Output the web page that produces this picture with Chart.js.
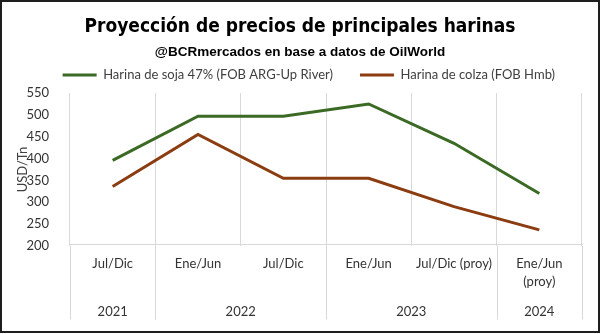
<!DOCTYPE html>
<html>
<head>
<meta charset="utf-8">
<script src="https://cdn.jsdelivr.net/npm/chart.js@4"></script>
<style>
  html, body { margin: 0; padding: 0; background: #fff; }
  #frame { position: absolute; left: 0; top: 0; width: 596px; height: 329px; border: 2px solid #1e1e1e; background: #fff; }
  canvas { display: block; }
</style>
</head>
<body>
<div id="frame"><canvas id="c" width="596" height="329"></canvas></div>
<script>
// ---- data ----
const periods = ["Jul/Dic", "Ene/Jun", "Jul/Dic", "Ene/Jun", "Jul/Dic (proy)", ["Ene/Jun", "(proy)"]];
const years = ["2021", "2022", "2023", "2024"];
const yearSpans = [1, 2, 2, 1];
const sojaLabel = "Harina de soja 47% (FOB ARG-Up River)";
const colzaLabel = "Harina de colza (FOB Hmb)";
const sojaValues = [396, 497, 497, 525, 435, 320];
const colzaValues = [336, 455, 355, 355, 290, 237];
const yTicks = [200, 250, 300, 350, 400, 450, 500, 550];

// year group centers / boundaries (in category index units)
const yearCenters = [];
const yearBounds = [-0.5];
let acc = 0;
yearSpans.forEach(s => { yearCenters.push(acc + (s - 1) / 2); acc += s; yearBounds.push(acc - 0.5); });

const gridGray = '#d9d9d9';
const tickColor = '#333333';
const baseFont = 'Lato, "Liberation Sans", sans-serif';

const yearLines = {
  id: 'yearLines',
  afterDraw(chart) {
    const xs = chart.scales.x, x2 = chart.scales.x2;
    const ctx = chart.ctx;
    ctx.save();
    ctx.strokeStyle = gridGray;
    ctx.lineWidth = 1;
    yearBounds.forEach(v => {
      const px = Math.round(xs.getPixelForValue(v)) + 0.5;
      ctx.beginPath();
      ctx.moveTo(px, chart.chartArea.bottom);
      ctx.lineTo(px, x2.bottom);
      ctx.stroke();
    });
    ctx.restore();
  }
};

new Chart(document.getElementById('c'), {
  type: 'line',
  data: {
    labels: periods,
    datasets: [
      { label: sojaLabel, data: sojaValues, borderColor: '#3b6a25', backgroundColor: '#3b6a25', borderWidth: 3, pointRadius: 0, tension: 0 },
      { label: colzaLabel, data: colzaValues, borderColor: '#8b3c10', backgroundColor: '#8b3c10', borderWidth: 3, pointRadius: 0, tension: 0 }
    ]
  },
  plugins: [yearLines],
  options: {
    responsive: false,
    animation: false,
    layout: { padding: { left: 16, right: 16, top: 0, bottom: 10 } },
    plugins: {
      title: {
        display: true,
        text: 'Proyección de precios de principales harinas',
        color: '#000',
        font: { family: '"Liberation Sans Narrow", "DejaVu Sans Condensed", sans-serif', size: 19, weight: 'bold', lineHeight: 1.2 },
        padding: { top: 14, bottom: 4.2 }
      },
      subtitle: {
        display: true,
        text: '@BCRmercados en base a datos de OilWorld',
        color: '#000',
        font: { family: '"Liberation Sans", Arial, sans-serif', size: 13.5, weight: 'bold', lineHeight: 1.2 },
        padding: { top: 0.9, bottom: -18.6 }
      },
      legend: {
        display: true,
        position: 'top',
        align: 'end',
        labels: {
          usePointStyle: true,
          pointStyle: 'line',
          pointStyleWidth: 34,
          padding: 27,
          color: '#404040',
          font: { family: baseFont, size: 13 }
        }
      },
      tooltip: { enabled: false }
    },
    scales: {
      x: {
        type: 'category',
        position: 'bottom',
        weight: 0,
        offset: true,
        grid: { display: true, color: gridGray, drawTicks: false, offset: true },
        border: { display: true, color: gridGray },
        ticks: { color: tickColor, font: { family: baseFont, size: 13, lineHeight: 1.35 }, padding: 11, maxRotation: 0, autoSkip: false },
        afterFit: s => { s.height = 50; }
      },
      x2: {
        type: 'linear',
        position: 'bottom',
        weight: 1,
        min: -0.5,
        max: 5.5,
        grid: { display: false },
        border: { display: false },
        afterBuildTicks: axis => { axis.ticks = yearCenters.map(v => ({ value: v })); },
        ticks: {
          color: tickColor, font: { family: baseFont, size: 13, lineHeight: 1.35 }, padding: 1,
          autoSkip: false, maxRotation: 0,
          callback: (v, i) => years[i]
        },
        afterFit: s => { s.height = 25; }
      },
      y: {
        type: 'linear',
        position: 'left',
        min: 200,
        max: 550,
        afterBuildTicks: axis => { axis.ticks = yTicks.map(v => ({ value: v })); },
        grid: { display: false },
        border: { display: false },
        ticks: { color: tickColor, font: { family: baseFont, size: 13 }, padding: 13 },
        title: { display: true, text: 'USD/Tn', color: '#404040', font: { family: baseFont, size: 13 }, padding: { top: -2.8, bottom: 0 } },
        afterFit: s => { s.width = 52; }
      }
    }
  }
});
</script>
</body>
</html>
